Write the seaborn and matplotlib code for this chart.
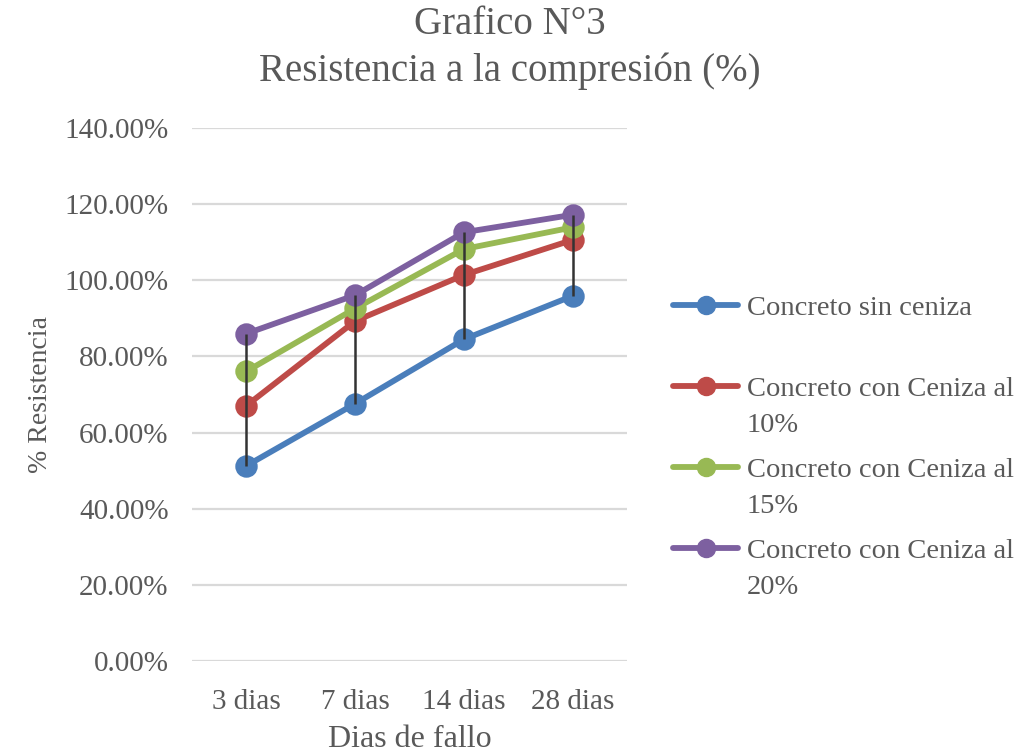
import numpy as np
import pandas as pd
import matplotlib
matplotlib.use("Agg")
import matplotlib.pyplot as plt
from matplotlib.lines import Line2D
from matplotlib.legend_handler import HandlerLine2D
from matplotlib.ticker import FuncFormatter
import seaborn as sns

# Días de ensayo y resistencia relativa (%) por mezcla
dias = ["3 dias", "7 dias", "14 dias", "28 dias"]
sin_ceniza = [51.3, 67.6, 84.5, 95.9]
ceniza_10 = [67.1, 89.3, 101.4, 110.6]
ceniza_15 = [76.1, 92.6, 108.2, 113.9]
ceniza_20 = [86.0, 96.1, 112.6, 117.2]

series = [
    "Concreto sin ceniza",
    "Concreto con Ceniza al 10%",
    "Concreto con Ceniza al 15%",
    "Concreto con Ceniza al 20%",
]
etiquetas_leyenda = [
    "Concreto sin ceniza\n ",
    "Concreto con Ceniza al\n10%",
    "Concreto con Ceniza al\n15%",
    "Concreto con Ceniza al\n20%",
]
colores = ["#4A7EBB", "#BE4B48", "#98B954", "#7D60A0"]
gris = "#595959"

valores = [sin_ceniza, ceniza_10, ceniza_15, ceniza_20]
df = pd.DataFrame(
    [(d, s, v) for s, vals in zip(series, valores) for d, v in zip(dias, vals)],
    columns=["dias", "serie", "resistencia"],
)

sns.set_theme(style="white")
plt.rcParams["font.family"] = ["Liberation Serif", "DejaVu Serif"]

fig = plt.figure(figsize=(10.33, 7.54), dpi=100)
ax = fig.add_axes([0.186, 0.1233, 0.421, 0.707])

sns.pointplot(
    data=df, x="dias", y="resistencia", hue="serie",
    order=dias, hue_order=series, palette=colores,
    markers="o", linestyles="-", errorbar=None, legend=False,
    markersize=13, linewidth=4.2, ax=ax,
)

# Líneas máximo-mínimo en cada edad
tabla = df.pivot(index="dias", columns="serie", values="resistencia").loc[dias]
ax.vlines(np.arange(len(dias)), tabla.min(axis=1), tabla.max(axis=1),
          color="#333333", linewidth=1.8, zorder=10)

ax.set_xlim(-0.5, len(dias) - 0.5)
ax.set_ylim(0, 140)
ax.set_yticks(np.arange(0, 141, 20))
ax.yaxis.set_major_formatter(FuncFormatter(lambda v, p: f"{v:.2f}%"))
ax.grid(axis="y", color="#D9D9D9", linewidth=1.6)
ax.grid(axis="x", visible=False)
ax.set_axisbelow(True)
for sp in ax.spines.values():
    sp.set_visible(False)

ax.tick_params(axis="y", length=0, pad=17, labelsize=21, labelcolor=gris)
ax.tick_params(axis="x", length=0, pad=20, labelsize=21, labelcolor=gris)
ax.set_xlabel("Dias de fallo", fontsize=23, color=gris, labelpad=7)
ax.set_ylabel("% Resistencia", fontsize=20, color=gris, labelpad=8)

fig.text(0.494, 0.936, "Grafico N°3\nResistencia a la compresión (%)",
         ha="center", va="center", fontsize=28, color=gris, linespacing=1.35)


class ManejadorPrimeraLinea(HandlerLine2D):
    """Coloca el símbolo a la altura de la primera línea de la etiqueta."""

    def __init__(self, desplazamiento, **kw):
        super().__init__(**kw)
        self.desplazamiento = desplazamiento

    def create_artists(self, legend, orig_handle, xdescent, ydescent,
                       width, height, fontsize, trans):
        return super().create_artists(
            legend, orig_handle, xdescent, ydescent - 2 * self.desplazamiento,
            width, height, fontsize, trans)


manejadores = [
    Line2D([], [], color=c, linewidth=4.2, marker="o", markersize=13)
    for c in colores
]
leg = fig.legend(
    manejadores, etiquetas_leyenda, loc="upper left",
    bbox_to_anchor=(0.6515, 1 - 296 / 754), frameon=False,
    fontsize=20.5, handlelength=2.3, handletextpad=0.3, labelspacing=0.72,
    borderpad=0, borderaxespad=0,
    handler_map={h: ManejadorPrimeraLinea(15) for h in manejadores},
)
for t in leg.get_texts():
    t.set_color(gris)
    t.set_linespacing(1.56)

fig.savefig("out.png", dpi=100)
